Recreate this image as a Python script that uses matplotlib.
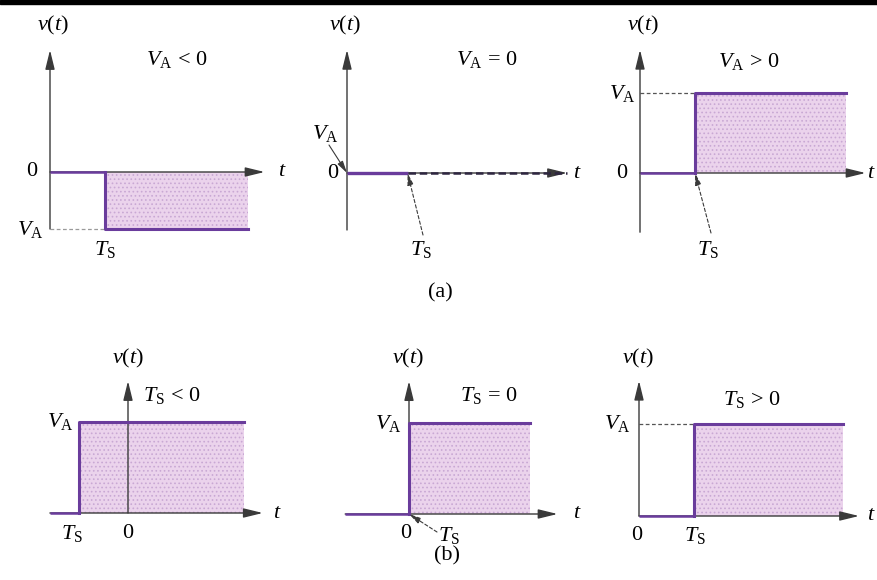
import matplotlib
matplotlib.use("Agg")
import matplotlib.pyplot as plt

plt.rcParams["font.family"] = "Liberation Serif"
plt.rcParams["mathtext.fontset"] = "custom"
plt.rcParams["mathtext.rm"] = "Liberation Serif"
plt.rcParams["mathtext.it"] = "Liberation Serif:italic"
plt.rcParams["hatch.linewidth"] = 0.7

# step signals v(t) = V_A * u(t - T_S), one per panel
conditions = [r"$V_{\mathrm{A}}\,<\,0$", r"$V_{\mathrm{A}}\,=\,0$", r"$V_{\mathrm{A}}\,>\,0$",
              r"$T_{\mathrm{S}}\,<\,0$", r"$T_{\mathrm{S}}\,=\,0$", r"$T_{\mathrm{S}}\,>\,0$"]
va_level = [-1.0, 0.0, 1.0, 1.0, 1.0, 1.0]
ts_step = [1.0, 1.1, 1.0, -0.9, 0.0, 1.0]
t_begin = [0.0, 0.0, 0.0, -1.42, -1.16, 0.0]
t_stop = [3.6, 4.0, 3.75, 2.1, 2.2, 3.7]

# panel layout: origin in pixels, pixels per unit, axis extents
W, H = 877, 580
origins = [(50, 172), (347, 173), (640, 173), (128, 513), (409, 514), (639, 516)]
x_scale = 55
y_scale = [57, 57, 80, 91, 91, 92]
t_axis_end = [3.9, 4.0, 4.1, 2.45, 2.7, 4.0]
v_axis = [(-1.0, 2.14), (-1.0, 2.16), (-0.74, 1.54), (0, 1.45), (0, 1.46), (0, 1.47)]

LINE = "#6a3c9c"
FILL = "#ebd3ec"
STIPPLE = "#c9a8d4"
AXIS = "#3a3a3a"
FS = 16

fig = plt.figure(figsize=(W / 100, H / 100), dpi=100)
fig.add_artist(plt.Rectangle((0, 1 - 4 / H), 1, 4 / H, transform=fig.transFigure,
                             color="black"))


def panel_axes(ox, oy, sy):
    ax = fig.add_axes([0, 0, 1, 1])
    ax.set_xlim(-ox / x_scale, (W - ox) / x_scale)
    ax.set_ylim((oy - H) / sy, oy / sy)
    ax.axis("off")
    ax.patch.set_alpha(0)
    return ax


def arrow(ax, start, tip):
    ax.annotate("", xy=tip, xytext=start,
                arrowprops=dict(arrowstyle="-|>,head_length=0.9,head_width=0.22",
                                mutation_scale=13, lw=1.0, color=AXIS,
                                shrinkA=0, shrinkB=0))


def label(x, y, s, size=FS):
    fig.text(x / W, 1 - y / H, s, fontsize=size, ha="center", va="center")


def leader(ax, target, x, y, dashed=True):
    ax.annotate("", xy=target, xytext=(x, H - y), textcoords="figure pixels",
                arrowprops=dict(arrowstyle="-|>,head_length=0.6,head_width=0.15",
                                mutation_scale=12, lw=0.8, color=AXIS,
                                linestyle=(0, (3, 2)) if dashed else "-",
                                shrinkA=0, shrinkB=0))


axes = []
for i in range(6):
    ox, oy = origins[i]
    ax = panel_axes(ox, oy, y_scale[i])
    axes.append(ax)
    ts, va, t0, t1 = ts_step[i], va_level[i], t_begin[i], t_stop[i]

    if va != 0:
        ax.fill_between([ts, t1], 0, va, facecolor=FILL, edgecolor=STIPPLE,
                        hatch="....", linewidth=0, zorder=1)

    # axes with arrow heads
    arrow(ax, (t0, 0), (t_axis_end[i], 0))
    arrow(ax, (0, v_axis[i][0]), (0, v_axis[i][1]))

    if va != 0:
        ax.plot([t0, ts], [0, 0], color=LINE, lw=1.8, solid_capstyle="butt", zorder=3)
        ax.plot([ts, ts, t1], [0, va, va], color=LINE, lw=2.2, zorder=3)
        if ts > 0:
            ax.plot([0, ts], [va, va], color="#555555" if i else "#9a9a9a",
                    lw=0.9, ls=(0, (3, 2)), zorder=2)
    else:
        ax.plot([t0, ts], [0, 0], color=LINE, lw=2.4, solid_capstyle="butt", zorder=3)
        ax.plot([ts, t1], [0, 0], color="#2e2640", lw=1.8, ls=(0, (3, 1.5)), zorder=3)

# panel (a): V_A < 0, V_A = 0, V_A > 0
label(53, 25, r"$v(t)$"); label(177, 60, conditions[0])
label(32, 172, "0"); label(30, 229, r"$V_{\mathrm{A}}$")
label(105, 250, r"$T_{\mathrm{S}}$"); label(282, 172, r"$t$")

label(345, 25, r"$v(t)$"); label(487, 60, conditions[1])
label(333, 173, "0"); label(325, 133, r"$V_{\mathrm{A}}$")
label(421, 250, r"$T_{\mathrm{S}}$"); label(577, 173, r"$t$")
leader(axes[1], (ts_step[1], 0), 423, 235)
leader(axes[1], (0, 0), 329, 145, dashed=False)
label(440, 293, "(a)")

label(643, 25, r"$v(t)$"); label(749, 62, conditions[2])
label(622, 93, r"$V_{\mathrm{A}}$"); label(622, 173, "0")
label(708, 250, r"$T_{\mathrm{S}}$"); label(871, 173, r"$t$")
leader(axes[2], (ts_step[2], 0), 711, 233)

# panel (b): T_S < 0, T_S = 0, T_S > 0
label(128, 358, r"$v(t)$"); label(172, 395, conditions[3])
label(60, 422, r"$V_{\mathrm{A}}$"); label(72, 533, r"$T_{\mathrm{S}}$")
label(128, 533, "0"); label(277, 513, r"$t$")

label(408, 358, r"$v(t)$"); label(489, 395, conditions[4])
label(388, 423, r"$V_{\mathrm{A}}$"); label(406, 534, "0")
label(449, 536, r"$T_{\mathrm{S}}$"); label(577, 514, r"$t$")
leader(axes[4], (ts_step[4], 0), 437, 532)
label(447, 556, "(b)")

label(638, 358, r"$v(t)$"); label(752, 400, conditions[5])
label(617, 424, r"$V_{\mathrm{A}}$"); label(637, 536, "0")
label(695, 536, r"$T_{\mathrm{S}}$"); label(871, 516, r"$t$")

fig.savefig("out.png", dpi=100, facecolor="white")
